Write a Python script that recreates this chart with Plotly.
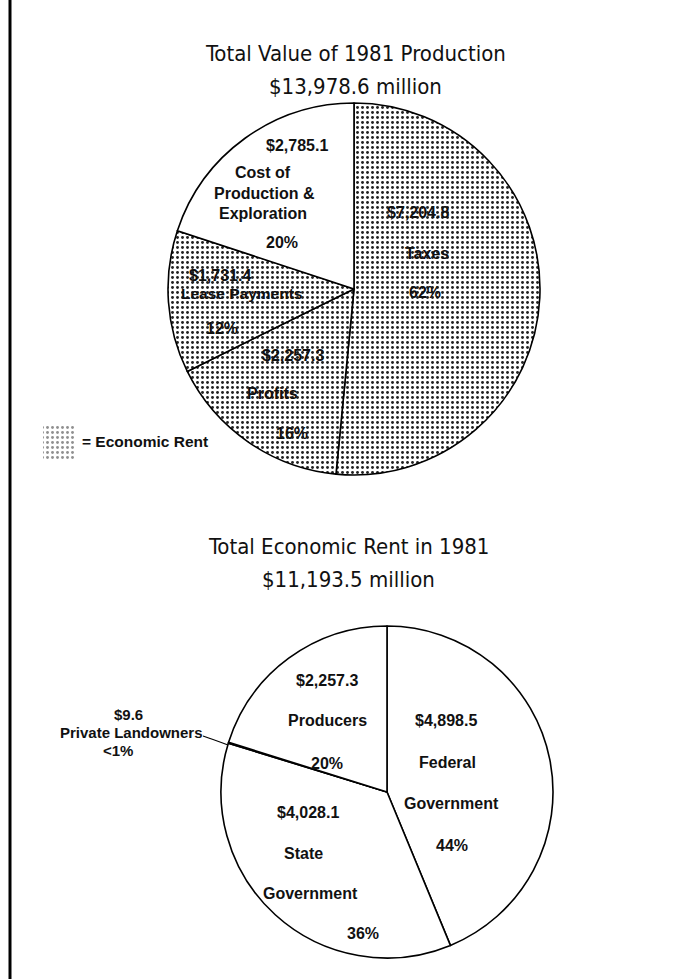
import plotly.graph_objects as go

W, H = 684, 979

# ---------------- data ----------------
prod_names = ["Taxes", "Profits", "Lease Payments", "Cost of Production & Exploration"]
prod_values = [7204.8, 2257.3, 1731.4, 2785.1]
prod_pct = ["62%", "16%", "12%", "20%"]
prod_is_rent = [True, True, True, False]
prod_total = 13978.6

rent_names = ["Federal Government", "State Government", "Private Landowners", "Producers"]
rent_values = [4898.5, 4028.1, 9.6, 2257.3]
rent_pct = ["44%", "36%", "<1%", "20%"]
rent_total = 11193.5

FONT = "Liberation Sans, Arial, Helvetica, sans-serif"
TITLE_FONT = "DejaVu Sans Condensed, Liberation Sans, sans-serif"
LABEL_SIZE = 16
TITLE_SIZE = 22


def money(v):
    return "${:,.1f}".format(v)


def pdom(x0, x1, y0, y1):
    return dict(x=[x0 / W, x1 / W], y=[1 - y1 / H, 1 - y0 / H])


pattern = dict(fgcolor="#222", bgcolor="white", size=5, solidity=0.26)

fig = go.Figure()

fig.add_trace(go.Pie(
    values=prod_values, labels=prod_names, sort=False, direction="clockwise",
    rotation=0, textinfo="none", hoverinfo="label+value+percent",
    marker=dict(colors=["white"] * 4, line=dict(color="black", width=1.6),
                pattern=dict(shape=["." if r else "" for r in prod_is_rent], **pattern)),
    domain=pdom(168, 540, 103, 475), showlegend=False,
))

fig.add_trace(go.Pie(
    values=rent_values, labels=rent_names, sort=False, direction="clockwise",
    rotation=0, textinfo="none", hoverinfo="label+value+percent",
    marker=dict(colors=["white"] * 4, line=dict(color="black", width=1.6)),
    domain=pdom(221, 553, 626, 958), showlegend=False,
))

# legend swatch (pixel-space hidden axes)
fig.add_trace(go.Scatter(
    x=[43, 75, 75, 43, 43], y=[425, 425, 460, 460, 425], mode="lines",
    fill="toself", line=dict(width=0, color="rgba(0,0,0,0)"),
    fillpattern=dict(shape=".", **pattern), fillcolor="white",
    hoverinfo="skip", showlegend=False,
))

ann = []


def txt(x, y, s, size=LABEL_SIZE, anchor="center", bold=True, family=FONT):
    ann.append(dict(x=x, y=y, xref="x", yref="y",
                    text=("<b>%s</b>" % s) if bold else s, showarrow=False,
                    xanchor=anchor, yanchor="middle",
                    font=dict(family=family, size=size, color="#111")))


# titles
txt(355, 53, "Total Value of 1981 Production", TITLE_SIZE, bold=False, family=TITLE_FONT)
txt(355, 86, money(prod_total) + " million", TITLE_SIZE, bold=False, family=TITLE_FONT)
txt(348, 546, "Total Economic Rent in 1981", TITLE_SIZE, bold=False, family=TITLE_FONT)
txt(348, 579, money(rent_total) + " million", TITLE_SIZE, bold=False, family=TITLE_FONT)

# top pie labels
txt(418, 212, money(prod_values[0]))
txt(427, 253, prod_names[0])
txt(425, 292, prod_pct[0])

txt(293, 355, money(prod_values[1]))
txt(272, 393, prod_names[1])
txt(292, 433, prod_pct[1])

txt(220, 275, money(prod_values[2]))
txt(242, 293, prod_names[2], 15.5)
txt(222, 328, prod_pct[2])

txt(297, 145, money(prod_values[3]))
txt(263, 172, "Cost of")
txt(264, 193, "Production &")
txt(263, 213, "Exploration")
txt(282, 242, prod_pct[3])

txt(80, 441, "= Economic Rent", 15.5, anchor="left")

# bottom pie labels
txt(446, 720, money(rent_values[0]))
txt(447, 762, "Federal")
txt(451, 803, "Government")
txt(452, 845, rent_pct[0])

txt(308, 812, money(rent_values[1]))
txt(303, 853, "State")
txt(310, 893, "Government")
txt(363, 933, rent_pct[1])

txt(128, 714, money(rent_values[2]), 15)
txt(131, 732, rent_names[2], 15)
txt(118, 750, rent_pct[2], 15)

txt(327, 680, money(rent_values[3]))
txt(327, 720, rent_names[3])
txt(327, 763, rent_pct[3])

shapes = [
    dict(type="line", xref="x", yref="y", x0=10, x1=10, y0=0, y1=979,
         line=dict(color="black", width=3)),
    dict(type="path", xref="x", yref="y", path="M 203 736 Q 212 739 228 745",
         line=dict(color="black", width=1.2)),
]

fig.update_layout(
    width=W, height=H, margin=dict(l=0, r=0, t=0, b=0),
    paper_bgcolor="white", plot_bgcolor="rgba(0,0,0,0)",
    xaxis=dict(range=[0, W], visible=False, domain=[0, 1], fixedrange=True),
    yaxis=dict(range=[H, 0], visible=False, domain=[0, 1], fixedrange=True),
    annotations=ann, shapes=shapes, showlegend=False,
)

fig.write_html("out.html")
